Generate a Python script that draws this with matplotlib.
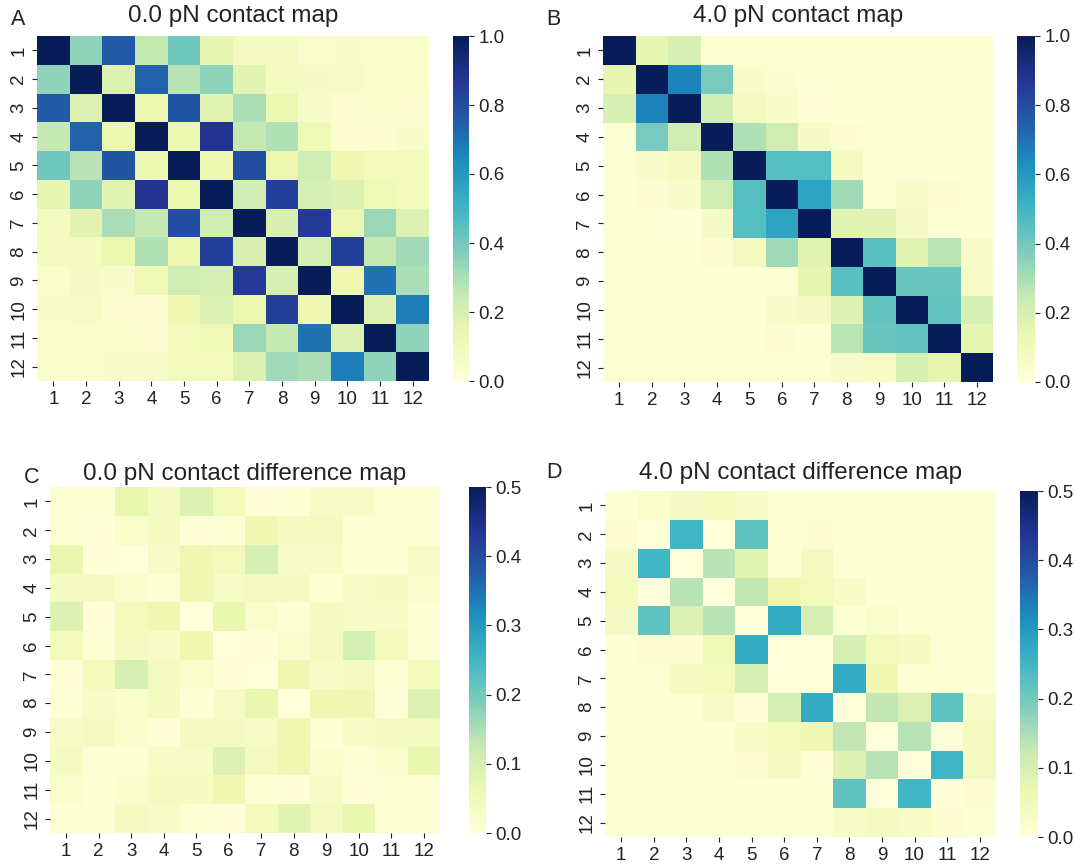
import numpy as np
import matplotlib
matplotlib.use('Agg')
import matplotlib.pyplot as plt
import seaborn as sns

plt.rcParams['font.family'] = ['Liberation Sans', 'DejaVu Sans']

# 残基ラベル
labels = [str(i) for i in range(1, 13)]

# 0.0 pN contact map
contact_0pN = [
    [1.00, 0.35, 0.76, 0.25, 0.41, 0.15, 0.08, 0.08, 0.04, 0.05, 0.04, 0.04],
    [0.35, 1.00, 0.18, 0.74, 0.28, 0.35, 0.16, 0.08, 0.07, 0.06, 0.04, 0.04],
    [0.76, 0.18, 1.00, 0.13, 0.78, 0.17, 0.30, 0.13, 0.05, 0.03, 0.04, 0.03],
    [0.25, 0.74, 0.13, 1.00, 0.13, 0.88, 0.25, 0.29, 0.11, 0.03, 0.03, 0.05],
    [0.41, 0.28, 0.78, 0.13, 1.00, 0.13, 0.80, 0.13, 0.22, 0.12, 0.10, 0.10],
    [0.15, 0.35, 0.17, 0.88, 0.13, 1.00, 0.22, 0.84, 0.20, 0.18, 0.11, 0.10],
    [0.08, 0.16, 0.30, 0.25, 0.80, 0.22, 1.00, 0.19, 0.86, 0.13, 0.33, 0.18],
    [0.08, 0.08, 0.13, 0.29, 0.13, 0.84, 0.19, 1.00, 0.20, 0.84, 0.25, 0.32],
    [0.04, 0.07, 0.05, 0.11, 0.22, 0.20, 0.86, 0.20, 1.00, 0.12, 0.70, 0.30],
    [0.05, 0.06, 0.03, 0.03, 0.12, 0.18, 0.13, 0.84, 0.12, 1.00, 0.18, 0.67],
    [0.04, 0.04, 0.04, 0.03, 0.10, 0.11, 0.33, 0.25, 0.70, 0.18, 1.00, 0.35],
    [0.04, 0.04, 0.05, 0.05, 0.10, 0.10, 0.18, 0.32, 0.30, 0.67, 0.35, 1.00],
]

# 4.0 pN contact map
contact_4pN = [
    [1.00, 0.15, 0.20, 0.02, 0.02, 0.02, 0.02, 0.02, 0.02, 0.02, 0.02, 0.02],
    [0.15, 1.00, 0.66, 0.39, 0.05, 0.03, 0.02, 0.02, 0.02, 0.02, 0.02, 0.02],
    [0.20, 0.66, 1.00, 0.22, 0.08, 0.05, 0.01, 0.02, 0.02, 0.02, 0.02, 0.02],
    [0.02, 0.39, 0.22, 1.00, 0.29, 0.23, 0.07, 0.03, 0.02, 0.02, 0.02, 0.02],
    [0.02, 0.05, 0.08, 0.29, 1.00, 0.46, 0.46, 0.08, 0.02, 0.02, 0.02, 0.02],
    [0.02, 0.03, 0.05, 0.23, 0.46, 1.00, 0.56, 0.32, 0.02, 0.05, 0.03, 0.02],
    [0.02, 0.02, 0.01, 0.07, 0.46, 0.56, 1.00, 0.16, 0.16, 0.07, 0.02, 0.02],
    [0.02, 0.02, 0.02, 0.03, 0.08, 0.32, 0.16, 1.00, 0.45, 0.17, 0.27, 0.05],
    [0.02, 0.02, 0.02, 0.02, 0.02, 0.02, 0.15, 0.45, 1.00, 0.42, 0.42, 0.06],
    [0.02, 0.02, 0.02, 0.02, 0.02, 0.05, 0.07, 0.18, 0.43, 1.00, 0.43, 0.20],
    [0.02, 0.02, 0.02, 0.02, 0.02, 0.03, 0.02, 0.27, 0.42, 0.43, 1.00, 0.15],
    [0.02, 0.02, 0.02, 0.02, 0.02, 0.02, 0.02, 0.05, 0.06, 0.20, 0.15, 1.00],
]

# 0.0 pN contact difference map
diff_0pN = [
    [0.010, 0.010, 0.070, 0.040, 0.090, 0.050, 0.005, 0.010, 0.030, 0.030, 0.010, 0.010],
    [0.010, 0.005, 0.020, 0.040, 0.005, 0.010, 0.060, 0.040, 0.040, 0.010, 0.010, 0.010],
    [0.070, 0.005, 0.000, 0.030, 0.060, 0.050, 0.100, 0.030, 0.030, 0.010, 0.010, 0.030],
    [0.040, 0.040, 0.020, 0.010, 0.060, 0.030, 0.040, 0.040, 0.010, 0.030, 0.040, 0.020],
    [0.090, 0.005, 0.050, 0.060, 0.000, 0.070, 0.020, 0.010, 0.040, 0.030, 0.030, 0.010],
    [0.050, 0.010, 0.040, 0.030, 0.060, 0.000, 0.005, 0.020, 0.040, 0.100, 0.050, 0.010],
    [0.005, 0.050, 0.100, 0.040, 0.020, 0.005, 0.000, 0.060, 0.030, 0.040, 0.010, 0.050],
    [0.010, 0.030, 0.020, 0.040, 0.010, 0.030, 0.070, 0.000, 0.060, 0.060, 0.005, 0.090],
    [0.030, 0.040, 0.020, 0.005, 0.040, 0.040, 0.030, 0.060, 0.010, 0.030, 0.040, 0.040],
    [0.040, 0.010, 0.010, 0.030, 0.030, 0.090, 0.040, 0.060, 0.020, 0.010, 0.020, 0.070],
    [0.020, 0.010, 0.020, 0.040, 0.040, 0.060, 0.010, 0.005, 0.030, 0.005, 0.010, 0.010],
    [0.010, 0.010, 0.040, 0.030, 0.010, 0.005, 0.050, 0.080, 0.040, 0.070, 0.010, 0.010],
]

# 4.0 pN contact difference map
diff_4pN = [
    [0.010, 0.020, 0.035, 0.045, 0.030, 0.010, 0.010, 0.010, 0.010, 0.010, 0.010, 0.010],
    [0.015, 0.000, 0.250, 0.000, 0.220, 0.010, 0.015, 0.010, 0.010, 0.010, 0.010, 0.010],
    [0.035, 0.250, 0.000, 0.140, 0.080, 0.010, 0.040, 0.010, 0.010, 0.010, 0.010, 0.010],
    [0.045, 0.000, 0.140, 0.000, 0.130, 0.060, 0.050, 0.030, 0.010, 0.010, 0.010, 0.010],
    [0.035, 0.220, 0.090, 0.140, 0.000, 0.270, 0.100, 0.010, 0.020, 0.010, 0.010, 0.010],
    [0.010, 0.015, 0.015, 0.055, 0.270, 0.000, 0.000, 0.100, 0.050, 0.040, 0.010, 0.010],
    [0.010, 0.010, 0.040, 0.050, 0.100, 0.000, 0.000, 0.270, 0.060, 0.010, 0.010, 0.010],
    [0.010, 0.010, 0.010, 0.030, 0.005, 0.100, 0.270, 0.000, 0.130, 0.090, 0.220, 0.030],
    [0.010, 0.010, 0.010, 0.010, 0.030, 0.050, 0.060, 0.130, 0.000, 0.140, 0.005, 0.040],
    [0.010, 0.010, 0.010, 0.010, 0.015, 0.040, 0.005, 0.090, 0.140, 0.000, 0.250, 0.040],
    [0.010, 0.010, 0.010, 0.010, 0.010, 0.010, 0.010, 0.220, 0.000, 0.250, 0.005, 0.015],
    [0.010, 0.010, 0.010, 0.010, 0.010, 0.010, 0.010, 0.030, 0.040, 0.030, 0.015, 0.010],
]

W, H = 1075, 867
fig = plt.figure(figsize=(W / 100, H / 100), dpi=100)


def px_axes(x0, y0, x1, y1):
    # ピクセル座標（左上原点）からaxesを作成
    return fig.add_axes([x0 / W, 1 - y1 / H, (x1 - x0) / W, (y1 - y0) / H])


def px_text(x, y, s, **kw):
    # ピクセル座標でテキストを配置（y はベースライン）
    fig.text(x / W, 1 - y / H, s, color='#222222', va='baseline', **kw)


panels = [
    # data, vmax, title, letter, heatmap box, cbar box, letter pos, title baseline
    (contact_0pN, 1.0, '0.0 pN contact map', 'A',
     (37, 36, 429, 381), (453, 36, 469, 381), (11, 25), 22),
    (contact_4pN, 1.0, '4.0 pN contact map', 'B',
     (603, 36, 993, 382), (1017, 36, 1035, 382), (546, 25), 22),
    (diff_0pN, 0.5, '0.0 pN contact difference map', 'C',
     (50, 487, 440, 833), (469, 487, 486, 833), (24, 483), 480),
    (diff_4pN, 0.5, '4.0 pN contact difference map', 'D',
     (605, 491, 996, 837), (1020, 491, 1038, 837), (546, 478), 479),
]

for data, vmax, title, letter, hbox, cbox, lpos, ty in panels:
    ax = px_axes(*hbox)
    cax = px_axes(*cbox)
    sns.heatmap(np.array(data), ax=ax, cbar_ax=cax, cmap='YlGnBu', vmin=0, vmax=vmax,
                xticklabels=labels, yticklabels=labels)
    ax.tick_params(axis='both', labelsize=13.5, colors='#222222', length=3.5, width=0.8)
    plt.setp(ax.get_yticklabels(), rotation=90, va='center')
    plt.setp(ax.get_xticklabels(), rotation=0)
    cax.tick_params(labelsize=13.5, colors='#222222', length=3.5, width=0.8)
    px_text((hbox[0] + hbox[2]) / 2, ty, title, fontsize=17.5, ha='center')
    px_text(lpos[0], lpos[1], letter, fontsize=15.5, ha='left')

plt.savefig('out.png', dpi=100)
